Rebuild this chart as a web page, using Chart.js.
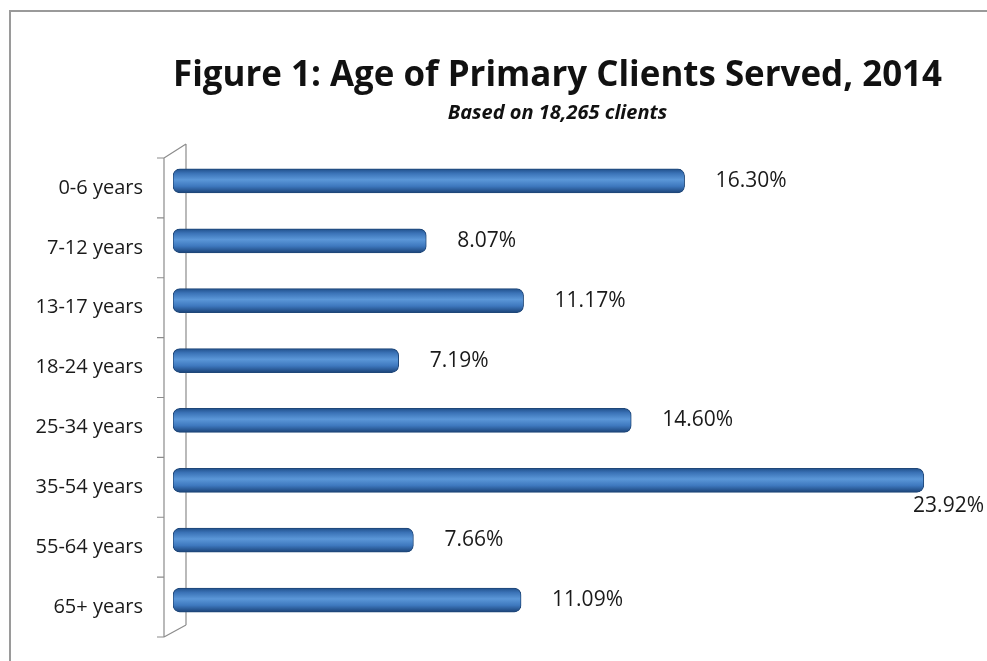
<!DOCTYPE html>
<html>
<head>
<meta charset="utf-8">
<script src="https://cdn.jsdelivr.net/npm/chart.js@4.4.1/dist/chart.umd.min.js"></script>
<style>
  html, body { margin: 0; padding: 0; background: #fff; overflow: hidden; }
  #wrap { position: relative; width: 987px; height: 661px; overflow: hidden; }
  #frame { position: absolute; left: 9px; top: 10px; right: 0; bottom: 0; border-left: 2px solid #9a9a9a; border-top: 2px solid #9a9a9a; }
  canvas { display: block; position: relative; }
</style>
</head>
<body>
<div id="wrap">
  <div id="frame"></div>
  <canvas id="ageChart" width="987" height="661"></canvas>
</div>
<script>
/* Age breakdown of primary clients, 2014 */
const AGE_GROUPS = ['0-6 years', '7-12 years', '13-17 years', '18-24 years',
                    '25-34 years', '35-54 years', '55-64 years', '65+ years'];
const SHARE_PCT = [16.30, 8.07, 11.17, 7.19, 14.60, 23.92, 7.66, 11.09];

const TITLE = 'Figure 1: Age of Primary Clients Served, 2014';
const SUBTITLE = 'Based on 18,265 clients';

const FONT = "'Open Sans', 'Liberation Sans', sans-serif";
const BAR_H = 24;
const DEPTH = 7;   // how far the front edge drops below the back wall

// cylinder shading, worked out from the category's pixel row
function barFill(context) {
  const chart = context.chart;
  const yScale = chart.scales.y;
  if (!chart.chartArea || !yScale) return '#4f81bd';
  const cy = yScale.getPixelForValue(context.dataIndex);
  const g = chart.ctx.createLinearGradient(0, cy - BAR_H / 2, 0, cy + BAR_H / 2);
  g.addColorStop(0, '#21508b');
  g.addColorStop(0.18, '#3a72b6');
  g.addColorStop(0.45, '#5b97d8');
  g.addColorStop(0.72, '#3e78be');
  g.addColorStop(1, '#1b4378');
  return g;
}

// axis bracket with a bit of perspective, drawn behind the bars
const wallPlugin = {
  id: 'wall',
  beforeDatasetsDraw(chart) {
    const { ctx, chartArea } = chart;
    const band = (chartArea.bottom - chartArea.top) / AGE_GROUPS.length;
    const fx = chartArea.left - 9, bx = chartArea.left + 13;
    const top = chartArea.top, bot = chartArea.bottom;
    ctx.save();
    ctx.strokeStyle = '#8c8c8c';
    ctx.lineWidth = 1.2;
    ctx.beginPath();
    // back wall
    ctx.moveTo(bx, top - DEPTH); ctx.lineTo(bx, bot - 5);
    // front edge
    ctx.moveTo(fx, top + DEPTH); ctx.lineTo(fx, bot + DEPTH);
    // depth edges
    ctx.moveTo(fx, top + DEPTH); ctx.lineTo(bx, top - DEPTH);
    ctx.moveTo(fx, bot + DEPTH); ctx.lineTo(bx, bot - 5);
    // tick marks between categories, on the front edge
    for (let i = 0; i <= AGE_GROUPS.length; i++) {
      const ty = top + i * band + DEPTH;
      ctx.moveTo(fx - 7, ty); ctx.lineTo(fx, ty);
    }
    ctx.stroke();
    ctx.restore();
  }
};

// percentage labels to the right of each bar
const valueLabels = {
  id: 'valueLabels',
  afterDatasetsDraw(chart) {
    const { ctx } = chart;
    const meta = chart.getDatasetMeta(0);
    ctx.save();
    ctx.font = '21px ' + FONT;
    ctx.fillStyle = '#1a1a1a';
    ctx.textBaseline = 'middle';
    ctx.textAlign = 'left';
    meta.data.forEach((bar, i) => {
      const txt = SHARE_PCT[i].toFixed(2) + '%';
      const w = ctx.measureText(txt).width;
      let x = bar.x + 31, ty = bar.y;
      if (x + w > chart.width - 2) {
        // no room on the right: tuck it under the bar end
        x = chart.width - w - 3;
        ty = bar.y + 26;
      }
      ctx.fillText(txt, x, ty);
    });
    ctx.restore();
  }
};

new Chart(document.getElementById('ageChart'), {
  type: 'bar',
  data: {
    labels: AGE_GROUPS,
    datasets: [{
      data: SHARE_PCT,
      backgroundColor: barFill,
      borderColor: '#1f4778',
      borderWidth: 1,
      borderRadius: 7,
      borderSkipped: false,
      barThickness: BAR_H,
    }]
  },
  options: {
    indexAxis: 'y',
    responsive: false,
    animation: false,
    layout: { padding: { left: 0, right: 45, top: 0, bottom: 31 } },
    plugins: {
      legend: { display: false },
      tooltip: { enabled: false },
      title: {
        display: true,
        text: TITLE,
        fullSize: false,
        color: '#111',
        font: { family: FONT, size: 35, weight: 'bold', lineHeight: 1.2 },
        padding: { top: 55, bottom: 0 },
      },
      subtitle: {
        display: true,
        text: SUBTITLE,
        fullSize: false,
        color: '#111',
        font: { family: FONT, size: 20, weight: 'bold', style: 'italic', lineHeight: 1.2 },
        padding: { top: 4, bottom: 26 },
      },
    },
    scales: {
      x: { display: false, min: 0, max: 24.5 },
      y: {
        grid: { display: false, drawTicks: false },
        border: { display: false },
        afterFit(scale) {
          // fixed gutter for the labels, and no extra room above/below
          scale.width = 173;
          scale.paddingTop = 0;
          scale.paddingBottom = 0;
        },
        ticks: {
          color: '#1a1a1a',
          padding: 30,
          labelOffset: DEPTH,
          font: { family: FONT, size: 20 },
        },
      },
    },
  },
  plugins: [wallPlugin, valueLabels],
});
</script>
</body>
</html>
